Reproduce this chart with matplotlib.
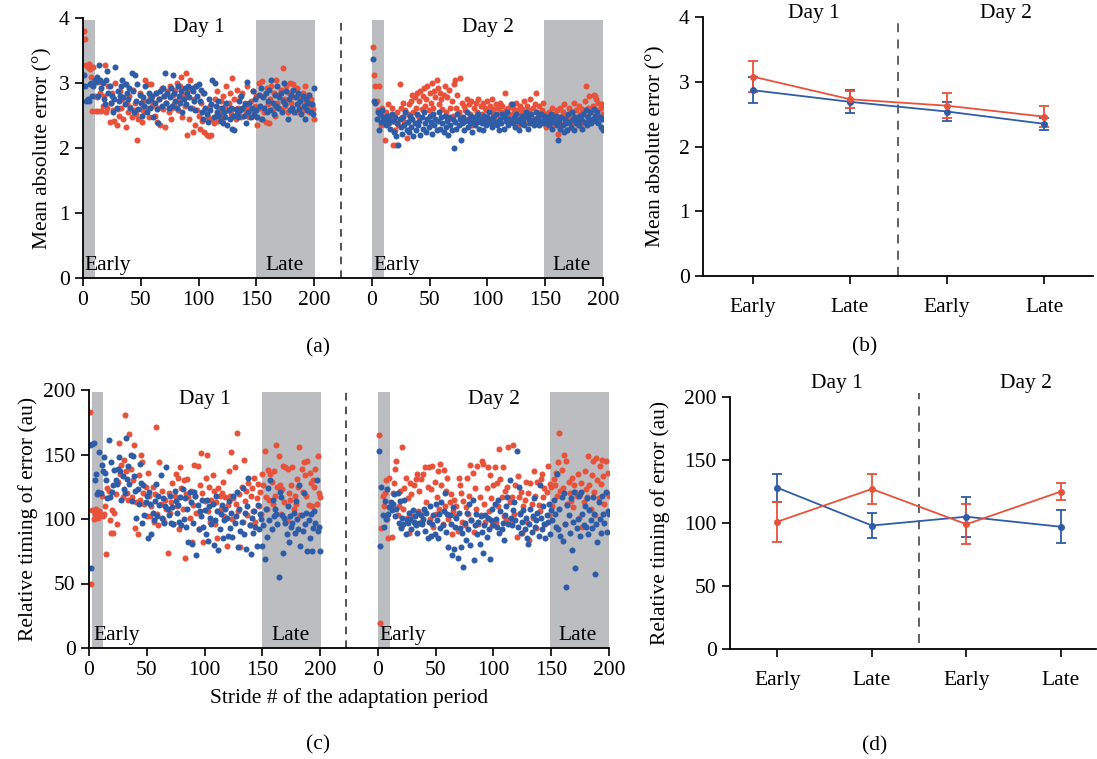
import matplotlib

matplotlib.use("Agg")
import matplotlib.pyplot as plt
import numpy as np

plt.rcParams["font.family"] = ["Liberation Serif", "DejaVu Serif"]
FS = 15.5
plt.rcParams["font.size"] = FS

RED = "#E8523A"
BLUE = "#2F5CA6"
GREY = "#BCBDC0"

strides = np.arange(1, 201)

# ---- (a) mean absolute error per stride (deg) ----
a_day1_red = [
    3.80, 3.67, 3.28, 3.25, 3.30, 3.22, 3.10, 2.57, 3.24, 2.80,
    2.57, 2.78, 2.57, 3.02, 2.85, 2.57, 2.64, 2.80, 3.28, 2.55,
    2.62, 2.95, 2.40, 2.70, 2.85, 2.58, 2.42, 3.00, 2.35, 2.60,
    2.50, 2.88, 2.62, 2.75, 2.45, 2.98, 2.32, 2.70, 2.55, 2.80,
    2.63, 2.48, 2.90, 2.58, 2.70, 2.52, 2.12, 2.45, 2.85, 2.60,
    2.40, 2.72, 2.55, 3.05, 2.62, 2.98, 2.48, 2.78, 2.98, 2.65,
    2.70, 2.50, 2.85, 2.40, 2.62, 2.75, 2.35, 2.92, 2.60, 2.80,
    2.32, 2.70, 2.88, 2.55, 2.95, 2.45, 2.62, 2.82, 2.68, 2.90,
    3.00, 2.58, 2.75, 2.95, 3.10, 2.48, 2.82, 2.65, 3.15, 2.20,
    2.90, 2.45, 3.05, 2.62, 2.25, 2.75, 2.35, 2.95, 2.58, 2.50,
    2.30, 2.70, 2.42, 2.85, 2.25, 2.60, 2.20, 2.48, 2.18, 2.65,
    2.20, 2.45, 2.38, 2.75, 2.50, 2.88, 2.42, 2.62, 2.72, 2.55,
    2.80, 2.48, 2.65, 2.95, 2.58, 2.70, 2.85, 2.52, 3.07, 2.60,
    2.75, 2.45, 2.90, 2.62, 2.55, 2.78, 2.48, 2.85, 2.60, 2.70,
    2.55, 2.95, 2.62, 2.48, 2.72, 2.58, 2.88, 2.50, 2.65, 2.80,
    2.35, 3.00, 2.62, 2.45, 3.03, 2.80, 2.55, 2.40, 2.92, 2.68,
    2.38, 2.75, 2.95, 2.60, 2.85, 2.50, 3.05, 2.70, 2.82, 2.62,
    2.90, 2.58, 3.23, 2.75, 2.65, 2.95, 2.55, 2.85, 3.00, 2.70,
    2.62, 2.98, 2.78, 2.55, 2.92, 2.68, 2.80, 2.60, 2.75, 2.85,
    2.58, 2.95, 2.70, 2.62, 2.82, 2.55, 2.75, 2.65, 2.60, 2.45,
]
a_day1_blue = [
    3.13, 2.95, 2.73, 2.75, 2.72, 2.98, 3.00, 2.80, 2.95, 3.05,
    3.02, 3.10, 2.80, 3.28, 3.05, 2.92, 3.00, 2.75, 2.68, 3.05,
    3.18, 2.85, 2.95, 2.70, 2.80, 2.55, 2.75, 3.25, 2.62, 2.88,
    2.72, 2.80, 2.95, 3.05, 2.78, 2.68, 2.98, 2.85, 2.75, 2.92,
    2.62, 3.15, 2.88, 2.55, 3.12, 2.72, 2.98, 2.60, 2.82, 2.70,
    2.50, 2.78, 2.65, 2.95, 2.55, 2.72, 2.85, 2.62, 2.75, 2.80,
    2.48, 2.70, 2.85, 2.60, 2.38, 2.75, 2.88, 2.65, 2.92, 2.80,
    3.15, 2.70, 2.85, 2.62, 2.78, 2.92, 2.65, 3.13, 2.85, 2.72,
    2.62, 2.95, 2.80, 2.70, 2.88, 2.55, 2.75, 2.92, 2.68, 2.85,
    2.95, 2.78, 2.62, 2.92, 2.88, 2.72, 2.58, 2.95, 2.80, 2.98,
    2.72, 2.90, 2.55, 2.45, 2.85, 2.62, 2.52, 2.40, 2.75, 2.58,
    2.68, 3.05, 2.48, 3.00, 2.65, 2.55, 2.72, 2.50, 2.42, 2.62,
    2.38, 2.55, 2.48, 2.70, 2.35, 2.58, 2.45, 2.62, 2.30, 2.50,
    2.27, 2.60, 2.52, 2.48, 2.72, 2.58, 2.80, 2.62, 2.50, 2.68,
    2.38, 3.02, 2.55, 2.70, 2.48, 2.62, 2.88, 2.52, 2.75, 2.58,
    2.48, 2.82, 2.65, 2.92, 2.45, 2.78, 2.62, 2.85, 2.55, 2.72,
    2.90, 2.58, 3.05, 2.70, 2.52, 2.82, 2.65, 2.95, 2.62, 2.78,
    2.85, 2.55, 2.72, 3.00, 2.68, 2.88, 2.45, 2.75, 2.58, 2.82,
    2.62, 2.90, 2.55, 2.78, 2.68, 2.85, 2.60, 2.72, 2.52, 2.80,
    2.65, 2.45, 2.75, 2.58, 2.70, 2.82, 2.55, 2.68, 2.52, 2.92,
]
a_day2_red = [
    3.55, 3.13, 2.95, 2.72, 2.58, 2.95, 2.52, 2.35, 2.62, 2.40,
    2.12, 2.55, 2.45, 2.68, 2.38, 2.50, 2.62, 2.05, 2.42, 2.28,
    2.05, 2.55, 2.35, 2.98, 2.62, 2.48, 2.70, 2.40, 2.58, 2.15,
    2.52, 2.68, 2.45, 2.72, 2.82, 2.55, 2.78, 2.62, 2.85, 2.50,
    2.72, 2.88, 2.60, 2.80, 2.92, 2.65, 2.75, 2.95, 2.58, 2.85,
    2.70, 3.00, 2.62, 2.88, 2.78, 3.05, 2.92, 2.68, 2.85, 2.75,
    2.60, 2.82, 2.95, 2.55, 2.78, 2.45, 2.90, 2.62, 2.72, 2.50,
    2.98, 3.05, 2.62, 2.82, 2.55, 3.08, 2.48, 2.70, 2.40, 2.65,
    2.58, 2.75, 2.45, 2.68, 2.52, 2.72, 2.35, 2.62, 2.48, 2.70,
    2.55, 2.75, 2.42, 2.65, 2.52, 2.70, 2.48, 2.62, 2.58, 2.72,
    2.45, 2.65, 2.55, 2.75, 2.60, 2.48, 2.68, 2.52, 2.62, 2.42,
    2.70, 2.55, 2.65, 2.48, 2.85, 2.58, 2.45, 2.62, 2.52, 2.68,
    2.40, 2.62, 2.55, 2.48, 2.70, 2.58, 2.35, 2.65, 2.52, 2.60,
    2.45, 2.72, 2.55, 2.65, 2.38, 2.58, 2.75, 2.50, 2.62, 2.45,
    2.68, 2.85, 2.55, 2.48, 2.65, 2.42, 2.58, 2.70, 2.40, 2.52,
    2.32, 2.45, 2.55, 2.38, 2.48, 2.62, 2.35, 2.52, 2.42, 2.58,
    2.22, 2.48, 2.62, 2.35, 2.55, 2.68, 2.40, 2.50, 2.28, 2.45,
    2.62, 2.38, 2.55, 2.48, 2.70, 2.42, 2.58, 2.35, 2.65, 2.52,
    2.45, 2.60, 2.38, 2.72, 2.95, 2.50, 2.62, 2.80, 2.42, 2.55,
    2.65, 2.82, 2.80, 2.75, 2.58, 2.70, 2.48, 2.62, 2.68, 2.52,
]
a_day2_blue = [
    3.37, 2.72, 2.70, 2.45, 2.55, 2.28, 2.52, 2.40, 2.58, 2.48,
    2.42, 2.35, 2.50, 2.38, 2.45, 2.30, 2.52, 2.42, 2.25, 2.48,
    2.18, 2.38, 2.05, 2.45, 2.32, 2.22, 2.48, 2.35, 2.55, 2.28,
    2.40, 2.25, 2.50, 2.32, 2.45, 2.18, 2.38, 2.28, 2.52, 2.35,
    2.42, 2.20, 2.48, 2.30, 2.55, 2.38, 2.25, 2.45, 2.32, 2.50,
    2.40, 2.22, 2.52, 2.35, 2.45, 2.28, 2.42, 2.55, 2.30, 2.48,
    2.38, 2.25, 2.50, 2.32, 2.42, 2.20, 2.48, 2.35, 2.28, 2.45,
    2.00, 2.40, 2.30, 2.52, 2.35, 2.45, 2.12, 2.38, 2.48, 2.28,
    2.42, 2.55, 2.32, 2.45, 2.38, 2.50, 2.25, 2.42, 2.35, 2.48,
    2.40, 2.52, 2.30, 2.45, 2.38, 2.28, 2.50, 2.42, 2.35, 2.48,
    2.55, 2.38, 2.45, 2.32, 2.48, 2.40, 2.52, 2.35, 2.42, 2.28,
    2.45, 2.38, 2.52, 2.30, 2.48, 2.42, 2.55, 2.35, 2.45, 2.40,
    2.68, 2.38, 2.48, 2.32, 2.52, 2.42, 2.28, 2.45, 2.38, 2.50,
    2.42, 2.35, 2.55, 2.48, 2.30, 2.45, 2.38, 2.52, 2.42, 2.35,
    2.45, 2.55, 2.40, 2.48, 2.35, 2.52, 2.42, 2.38, 2.50, 2.45,
    2.38, 2.48, 2.35, 2.42, 2.52, 2.30, 2.45, 2.40, 2.50, 2.36,
    2.12, 2.42, 2.30, 2.48, 2.35, 2.25, 2.45, 2.38, 2.28, 2.52,
    2.40, 2.32, 2.55, 2.45, 2.28, 2.48, 2.38, 2.42, 2.35, 2.50,
    2.45, 2.30, 2.52, 2.40, 2.58, 2.35, 2.48, 2.42, 2.55, 2.38,
    2.45, 2.60, 2.50, 2.42, 2.55, 2.38, 2.48, 2.32, 2.45, 2.28,
]

# ---- (c) relative timing of error per stride (au) ----
c_day1_red = [
    183, 50, 107, 100, 104, 108, 102, 101, 106, 103,
    118, 102, 104, 110, 73, 124, 122, 99, 89, 107,
    89, 105, 119, 96, 129, 159, 135, 142, 117, 146,
    181, 137, 120, 115, 166, 139, 117, 130, 157, 93,
    113, 88, 134, 115, 150, 144, 120, 112, 125, 102,
    136, 118, 102, 110, 125, 98, 119, 171, 104, 95,
    144, 112, 122, 100, 98, 115, 108, 74, 120, 105,
    113, 128, 96, 118, 135, 110, 132, 92, 140, 124,
    108, 130, 70, 119, 131, 117, 101, 122, 82, 111,
    142, 118, 105, 141, 92, 126, 151, 120, 82, 114,
    132, 150, 106, 125, 98, 115, 134, 122, 96, 113,
    85, 124, 118, 108, 120, 129, 102, 117, 79, 111,
    137, 118, 152, 100, 116, 140, 112, 167, 106, 119,
    78, 125, 98, 146, 114, 122, 103, 128, 95, 118,
    124, 106, 132, 98, 116, 127, 110, 121, 104, 135,
    126, 153, 117, 108, 138, 115, 135, 129, 112, 137,
    118, 157, 125, 149, 126, 104, 123, 141, 113, 140,
    99, 139, 120, 115, 126, 140, 108, 118, 112, 131,
    125, 156, 103, 139, 121, 144, 134, 118, 145, 111,
    136, 128, 110, 130, 125, 139, 112, 149, 120, 117,
]
c_day1_blue = [
    157, 62, 158, 159, 130, 135, 119, 121, 152, 120,
    142, 137, 148, 136, 130, 116, 161, 117, 144, 121,
    126, 138, 130, 127, 139, 148, 137, 115, 133, 123,
    120, 163, 131, 141, 127, 150, 114, 149, 133, 122,
    101, 123, 112, 143, 128, 97, 126, 103, 113, 118,
    85, 121, 112, 88, 105, 99, 114, 127, 102, 118,
    111, 134, 101, 116, 97, 110, 140, 108, 103, 118,
    97, 109, 96, 122, 114, 105, 111, 98, 117, 95,
    123, 100, 116, 94, 108, 82, 121, 113, 81, 97,
    121, 118, 72, 111, 92, 106, 102, 115, 94, 107,
    88, 115, 83, 110, 101, 96, 112, 80, 99, 118,
    106, 76, 92, 104, 111, 85, 99, 108, 101, 87,
    114, 93, 105, 86, 118, 97, 102, 121, 78, 108,
    91, 98, 124, 88, 105, 77, 110, 132, 95, 73,
    101, 89, 106, 94, 79, 111, 92, 104, 100, 79,
    95, 69, 108, 86, 124, 99, 130, 92, 115, 102,
    108, 104, 96, 55, 121, 117, 103, 74, 101, 97,
    88, 110, 82, 102, 94, 97, 105, 89, 114, 100,
    92, 126, 79, 103, 91, 120, 96, 105, 75, 99,
    85, 104, 75, 93, 106, 97, 130, 91, 94, 75,
]
c_day2_red = [
    165, 19, 93, 118, 110, 120, 130, 100, 85, 132,
    110, 86, 120, 128, 139, 145, 103, 110, 122, 94,
    156, 108, 124, 132, 101, 116, 89, 128, 119, 102,
    126, 97, 131, 135, 106, 122, 131, 98, 135, 107,
    140, 113, 125, 140, 100, 123, 141, 94, 129, 104,
    117, 137, 108, 143, 126, 96, 138, 110, 122, 132,
    100, 113, 119, 88, 106, 115, 102, 110, 91, 132,
    126, 120, 98, 114, 95, 109, 132, 104, 118, 142,
    99, 136, 90, 124, 108, 141, 96, 117, 103, 145,
    143, 112, 98, 124, 140, 106, 134, 116, 95, 126,
    140, 98, 128, 110, 154, 131, 117, 140, 102, 122,
    100, 125, 156, 113, 97, 117, 157, 104, 126, 86,
    133, 117, 105, 121, 89, 110, 115, 129, 98, 120,
    84, 128, 112, 101, 137, 118, 93, 129, 111, 106,
    131, 135, 117, 124, 96, 121, 141, 103, 127, 125,
    110, 131, 126, 136, 118, 144, 167, 122, 138, 124,
    150, 96, 145, 112, 129, 120, 114, 132, 109, 126,
    121, 118, 135, 101, 119, 128, 94, 113, 137, 123,
    117, 149, 126, 108, 134, 145, 121, 103, 147, 130,
    116, 141, 127, 146, 133, 112, 145, 120, 136, 118,
]
c_day2_blue = [
    153, 79, 125, 103, 94, 114, 100, 123, 104, 109,
    113, 107, 112, 119, 102, 108, 120, 97, 114, 93,
    101, 96, 115, 88, 99, 97, 105, 100, 92, 107,
    98, 102, 95, 89, 105, 97, 103, 96, 100, 108,
    91, 105, 85, 98, 110, 87, 96, 103, 88, 112,
    99, 85, 104, 93, 113, 95, 106, 120, 90, 104,
    78, 103, 96, 72, 109, 77, 94, 101, 70, 105,
    93, 78, 89, 63, 97, 84, 105, 92, 112, 80,
    99, 115, 68, 95, 104, 88, 98, 81, 102, 90,
    74, 95, 103, 86, 101, 92, 69, 99, 108, 95,
    112, 100, 94, 115, 89, 106, 92, 97, 84, 103,
    110, 117, 96, 130, 101, 95, 107, 113, 99, 153,
    94, 125, 104, 89, 98, 107, 92, 101, 85, 81,
    96, 108, 90, 102, 116, 94, 99, 105, 87, 126,
    101, 92, 110, 96, 85, 103, 98, 112, 88, 107,
    99, 115, 104, 94, 135, 92, 108, 87, 117, 83,
    120, 96, 47, 111, 103, 89, 116, 76, 98, 121,
    62, 93, 100, 118, 87, 121, 104, 95, 110, 94,
    116, 88, 107, 99, 93, 117, 104, 57, 96, 82,
    113, 100, 89, 118, 104, 97, 121, 90, 106, 104,
]

# ---- (b), (d) phase means with error bars ----
phases = ["Early", "Late", "Early", "Late"]
b_red_mean = [3.08, 2.73, 2.63, 2.46]
b_red_err = [0.24, 0.13, 0.19, 0.16]
b_blue_mean = [2.87, 2.69, 2.54, 2.35]
b_blue_err = [0.20, 0.18, 0.14, 0.09]
d_red_mean = [101, 127, 99, 125]
d_red_err = [16, 12, 16, 7]
d_blue_mean = [128, 98, 105, 97]
d_blue_err = [11, 10, 16, 13]

DAY2_OFFSET = 250


def W(px):
    return px / 1097


def H(px):
    return px / 759


def style_axes(ax):
    for s in ("top", "right"):
        ax.spines[s].set_visible(False)
    for s in ("left", "bottom"):
        ax.spines[s].set_linewidth(1.3)
    ax.tick_params(direction="out", length=6, width=1.2, labelsize=FS)


def scatter_panel(ax, d1_red, d1_blue, d2_red, d2_blue, ymax, early1, dash_x):
    ax.set_xlim(0, 450)
    ax.set_ylim(0, ymax)
    for lo, hi in [early1, (150, 200.5), (DAY2_OFFSET, DAY2_OFFSET + 10.5),
                   (DAY2_OFFSET + 149, DAY2_OFFSET + 200)]:
        ax.axvspan(lo, hi, ymax=0.993, color=GREY, lw=0, zorder=0)
    x2 = strides + DAY2_OFFSET
    for xs, ys, col in [(strides, d1_red, RED), (strides, d1_blue, BLUE),
                        (x2, d2_red, RED), (x2, d2_blue, BLUE)]:
        ax.scatter(xs, ys, s=19, color=col, linewidths=0, zorder=2)
    ax.axvline(dash_x, color="#222222", ls=(0, (5, 4)), lw=1.1)
    ticks = [0, 50, 100, 150, 200]
    ax.set_xticks(ticks + [t + DAY2_OFFSET for t in ticks])
    ax.set_xticklabels([str(t) for t in ticks] * 2)
    ax.text(100, ymax * 0.962, "Day 1", ha="center", va="center")
    ax.text(DAY2_OFFSET + 100, ymax * 0.962, "Day 2", ha="center", va="center")
    ax.text(early1[0] + 1, ymax * 0.01, "Early", ha="left", va="bottom")
    ax.text(174, ymax * 0.01, "Late", ha="center", va="bottom")
    ax.text(DAY2_OFFSET + 1, ymax * 0.01, "Early", ha="left", va="bottom")
    ax.text(DAY2_OFFSET + 173, ymax * 0.01, "Late", ha="center", va="bottom")
    style_axes(ax)


def mean_panel(ax, red_m, red_e, blue_m, blue_e, xlim, ymax):
    x = np.arange(len(phases))
    ax.errorbar(x, blue_m, yerr=blue_e, color=BLUE, lw=1.3, elinewidth=1.3,
                capsize=3.5, capthick=1.3, marker="o", ms=4)
    ax.errorbar(x, red_m, yerr=red_e, color=RED, lw=1.3, elinewidth=1.3,
                capsize=3.5, capthick=1.3, marker="o", ms=4)
    ax.set_xlim(*xlim)
    ax.set_ylim(0, ymax)
    ax.set_xticks(x)
    ax.set_xticklabels(phases)
    ax.tick_params(axis="x", pad=10)
    style_axes(ax)


fig = plt.figure(figsize=(10.97, 7.59), dpi=100)

# (a)
ax_a = fig.add_axes([W(83), H(759 - 278), W(520), H(260)])
scatter_panel(ax_a, a_day1_red, a_day1_blue, a_day2_red, a_day2_blue, 4, (0, 10), 223)
ax_a.set_yticks([0, 1, 2, 3, 4])
ax_a.set_ylabel("Mean absolute error (°)", labelpad=5)
fig.text(W(318), 1 - H(348), "(a)", ha="center", va="center")

# (c)
ax_c = fig.add_axes([W(89), H(759 - 648), W(520), H(258)])
scatter_panel(ax_c, c_day1_red, c_day1_blue, c_day2_red, c_day2_blue, 200, (2.5, 12.5), 222.5)
ax_c.set_yticks([0, 50, 100, 150, 200])
ax_c.set_ylabel("Relative timing of error (au)", labelpad=4)
ax_c.set_xlabel("Stride # of the adaptation period", labelpad=6)
fig.text(W(318), 1 - H(745), "(c)", ha="center", va="center")

# (b)
ax_b = fig.add_axes([W(703), H(759 - 276), W(390), H(259)])
mean_panel(ax_b, b_red_mean, b_red_err, b_blue_mean, b_blue_err, (-0.51, 3.5), 4)
ax_b.axvline(1.5, color="#555555", ls=(0, (5, 4)), lw=1.3)
ax_b.set_yticks([0, 1, 2, 3, 4])
ax_b.set_ylabel("Mean absolute error (°)", labelpad=10)
ax_b.text(0.63, 4.06, "Day 1", ha="center", va="center", clip_on=False)
ax_b.text(2.6, 4.06, "Day 2", ha="center", va="center", clip_on=False)
fig.text(W(865), 1 - H(347), "(b)", ha="center", va="center")

# (d)
ax_d = fig.add_axes([W(730), H(759 - 649), W(366), H(252)])
mean_panel(ax_d, d_red_mean, d_red_err, d_blue_mean, d_blue_err, (-0.5, 3.37), 200)
ax_d.plot([1.5, 1.5], [5, 203], color="#555555", ls=(0, (5, 4)), lw=1.3, clip_on=False)
ax_d.set_yticks([0, 50, 100, 150, 200])
ax_d.set_ylabel("Relative timing of error (au)", labelpad=10)
ax_d.text(0.63, 211, "Day 1", ha="center", va="center", clip_on=False)
ax_d.text(2.63, 211, "Day 2", ha="center", va="center", clip_on=False)
fig.text(W(875), 1 - H(746), "(d)", ha="center", va="center")

fig.savefig("out.png", dpi=100)
